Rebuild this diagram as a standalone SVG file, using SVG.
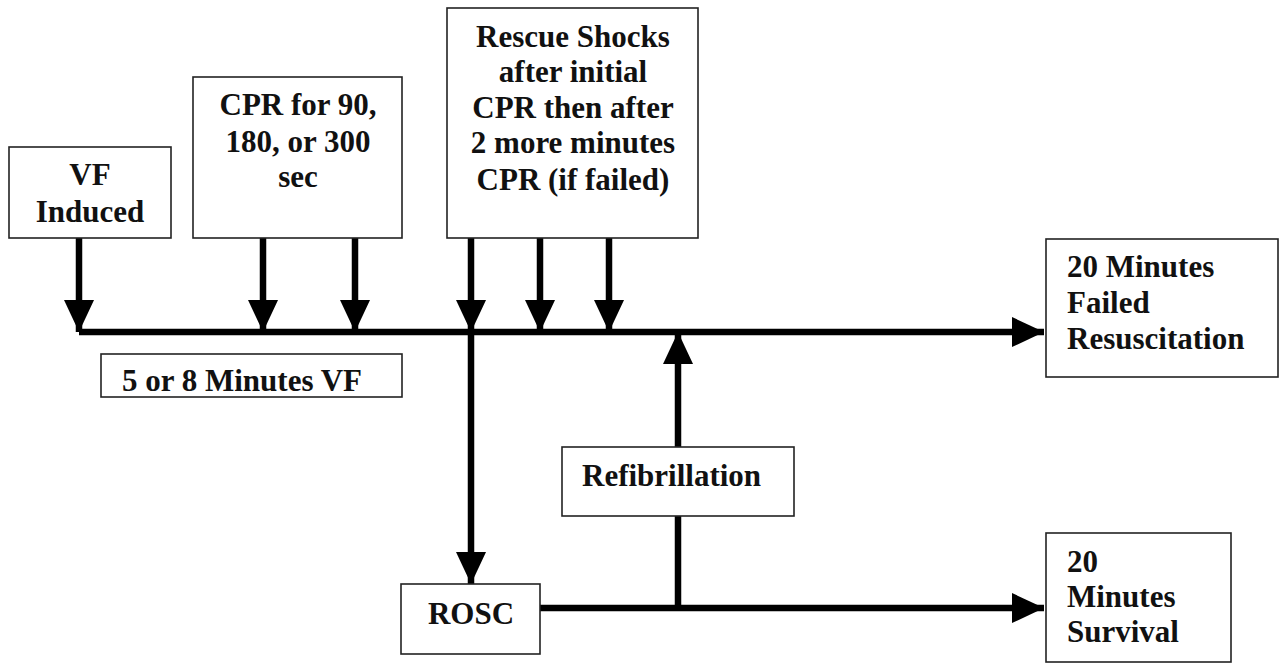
<svg xmlns="http://www.w3.org/2000/svg" width="1282" height="665" viewBox="0 0 1282 665">
<style>
.box{fill:#fff;stroke:#222;stroke-width:1.6}
.t{font-family:"Liberation Serif","Times New Roman",serif;font-weight:bold;font-size:31px;fill:#111}
.c{text-anchor:middle}
.ln{stroke:#000;stroke-width:6.5;fill:none}
</style>
<defs>
<marker id="ah" markerUnits="userSpaceOnUse" markerWidth="34" markerHeight="32" refX="32" refY="16" orient="auto" viewBox="0 0 34 32">
<path d="M0,1 L32,16 L0,31 z" fill="#000"/>
</marker>
</defs>
<rect width="1282" height="665" fill="#fff"/>
<g id="connectors">
<line class="ln" x1="79" y1="332" x2="1044" y2="332" marker-end="url(#ah)"/>
<line class="ln" x1="79" y1="238" x2="79" y2="332" marker-end="url(#ah)"/>
<line class="ln" x1="263" y1="238" x2="263" y2="332" marker-end="url(#ah)"/>
<line class="ln" x1="355" y1="238" x2="355" y2="332" marker-end="url(#ah)"/>
<line class="ln" x1="471" y1="238" x2="471" y2="332" marker-end="url(#ah)"/>
<line class="ln" x1="540" y1="238" x2="540" y2="332" marker-end="url(#ah)"/>
<line class="ln" x1="609" y1="238" x2="609" y2="332" marker-end="url(#ah)"/>
<line class="ln" x1="471" y1="332" x2="471" y2="584" marker-end="url(#ah)"/>
<line class="ln" x1="540" y1="608" x2="1044" y2="608" marker-end="url(#ah)"/>
<line class="ln" x1="678" y1="608" x2="678" y2="516"/>
<line class="ln" x1="678" y1="447" x2="678" y2="332" marker-end="url(#ah)"/>
</g>
<g id="vf-induced">
<rect class="box" x="9" y="147" width="162" height="91"/>
<text class="t c" x="90" y="185">VF</text>
<text class="t c" x="90" y="222">Induced</text>
</g>
<g id="cpr">
<rect class="box" x="193" y="77" width="209" height="161"/>
<text class="t c" x="298" y="115">CPR for 90,</text>
<text class="t c" x="298" y="152">180, or 300</text>
<text class="t c" x="298" y="187">sec</text>
</g>
<g id="rescue-shocks">
<rect class="box" x="447" y="8" width="251" height="230"/>
<text class="t c" x="573" y="47">Rescue Shocks</text>
<text class="t c" x="573" y="82">after initial</text>
<text class="t c" x="573" y="118">CPR then after</text>
<text class="t c" x="573" y="153">2 more minutes</text>
<text class="t c" x="573" y="190">CPR (if failed)</text>
</g>
<g id="vf-duration">
<rect class="box" x="101" y="354" width="301" height="43"/>
<text class="t" x="122" y="391">5 or 8 Minutes VF</text>
</g>
<g id="refibrillation">
<rect class="box" x="562" y="447" width="232" height="69"/>
<text class="t" x="582" y="486">Refibrillation</text>
</g>
<g id="rosc">
<rect class="box" x="401" y="584" width="139" height="70"/>
<text class="t c" x="471" y="624">ROSC</text>
</g>
<g id="failed">
<rect class="box" x="1046" y="239" width="232" height="138"/>
<text class="t" x="1067" y="277">20 Minutes</text>
<text class="t" x="1067" y="313">Failed</text>
<text class="t" x="1067" y="349">Resuscitation</text>
</g>
<g id="survival">
<rect class="box" x="1046" y="533" width="185" height="129"/>
<text class="t" x="1067" y="572">20</text>
<text class="t" x="1067" y="607">Minutes</text>
<text class="t" x="1067" y="642">Survival</text>
</g>
</svg>
